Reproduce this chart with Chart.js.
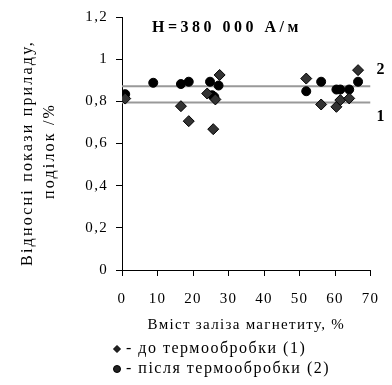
<!DOCTYPE html>
<html>
<head>
<meta charset="utf-8">
<script src="https://cdn.jsdelivr.net/npm/chart.js@4.4.0/dist/chart.umd.min.js"></script>
<style>
  html, body { margin: 0; padding: 0; background: #fff; }
  #wrap { width: 392px; height: 385px; }
</style>
</head>
<body>
<div id="wrap"><canvas id="chart" width="392" height="385"></canvas></div>
<script>
// axis ranges / ticks
const xTicks = [0, 10, 20, 30, 40, 50, 60, 70];
const yTicks = [0, 0.2, 0.4, 0.6, 0.8, 1, 1.2];

// (1) before heat treatment - diamonds
const beforeX = [0.9, 16.6, 18.8, 24.0, 25.7, 26.3, 27.5, 51.9, 56.1, 60.4, 61.5, 64.0, 66.5];
const beforeY = [0.813, 0.777, 0.706, 0.837, 0.668, 0.809, 0.925, 0.908, 0.785, 0.774, 0.806, 0.814, 0.948];

// (2) after heat treatment - circles
const afterX = [0.9, 8.8, 16.6, 18.8, 24.8, 25.4, 26.0, 27.2, 51.9, 56.1, 60.4, 61.5, 64.0, 66.5];
const afterY = [0.834, 0.888, 0.882, 0.893, 0.893, 0.829, 0.821, 0.875, 0.848, 0.893, 0.856, 0.856, 0.856, 0.893];

// horizontal reference lines 1 and 2
const lineNames = ['1', '2'];
const lineLevels = [0.795, 0.872];

const fontFam = '"Liberation Serif", "Times New Roman", serif';

const pts = (xs, ys) => xs.map((x, i) => ({ x: x, y: ys[i] }));

const extraText = {
    id: 'extraText',
    beforeDraw(chart) {
        chart.ctx.letterSpacing = '1.3px';
    },
    afterDraw(chart) {
        const ctx = chart.ctx;
        const area = chart.chartArea;
        const ys = chart.scales.y;
        ctx.save();
        ctx.fillStyle = '#000';

        // title inside plot
        ctx.font = 'bold 16px ' + fontFam;
        ctx.letterSpacing = '3.5px';
        ctx.textAlign = 'left';
        ctx.textBaseline = 'middle';
        ctx.fillText('H=380 000 A/м', 152, 28);

        // line labels
        ctx.letterSpacing = '0px';
        ctx.font = 'bold 16px ' + fontFam;
        lineNames.forEach((n, i) => {
            const yy = ys.getPixelForValue(lineLevels[i]);
            ctx.fillText(n, area.right + 6, n === '2' ? yy - 16 : yy + 14);
        });

        // y-axis title, two rotated lines
        ctx.font = '16px ' + fontFam;
        ctx.letterSpacing = '2.2px';
        ctx.textAlign = 'center';
        ctx.save();
        ctx.translate(28, 153);
        ctx.rotate(-Math.PI / 2);
        ctx.fillText('Відносні покази приладу,', 0, 0);
        ctx.restore();
        ctx.save();
        ctx.translate(50, 151);
        ctx.rotate(-Math.PI / 2);
        ctx.fillText('поділок /%', 0, 0);
        ctx.restore();

        // legend under the axis
        ctx.letterSpacing = '1.5px';
        ctx.textAlign = 'left';
        ctx.font = '16px ' + fontFam;
        const rows = [['rectRot', '- до термообробки (1)', 349], ['circle', '- після термообробки (2)', 369]];
        rows.forEach(r => {
            ctx.fillStyle = '#222';
            ctx.strokeStyle = '#000';
            ctx.lineWidth = 1;
            Chart.helpers.drawPoint(ctx, { pointStyle: r[0], radius: 3.5, rotation: 0, borderWidth: 1 }, 117, r[2]);
            ctx.fillStyle = '#000';
            ctx.fillText(r[1], 126, r[2]);
        });
        ctx.restore();
    }
};

const lineSets = lineLevels.map((v, i) => ({
    type: 'line',
    label: 'line ' + lineNames[i],
    data: [{ x: xTicks[0], y: v }, { x: xTicks[xTicks.length - 1], y: v }],
    borderColor: '#999',
    borderWidth: 2,
    pointRadius: 0,
    order: 3
}));

new Chart(document.getElementById('chart'), {
    type: 'scatter',
    data: {
        datasets: [
            ...lineSets,
            {
                label: 'до термообробки (1)',
                data: pts(beforeX, beforeY),
                pointStyle: 'rectRot',
                pointRadius: 5.5,
                backgroundColor: '#333',
                borderColor: '#000',
                borderWidth: 1,
                order: 1
            },
            {
                label: 'після термообробки (2)',
                data: pts(afterX, afterY),
                pointStyle: 'circle',
                pointRadius: 4.5,
                backgroundColor: '#000',
                borderColor: '#000',
                borderWidth: 1,
                order: 2
            }
        ]
    },
    options: {
        responsive: false,
        animation: false,
        devicePixelRatio: 1,
        layout: { padding: { left: 0, right: 15, top: 17, bottom: 0 } },
        plugins: { legend: { display: false }, tooltip: { enabled: false } },
        scales: {
            x: {
                type: 'linear',
                min: 0,
                max: 70,
                afterBuildTicks: s => { s.ticks = xTicks.map(v => ({ value: v })); },
                afterFit: s => { s.height = 115; },
                grid: { drawOnChartArea: false, drawTicks: true, tickLength: 6, color: '#000' },
                border: { color: '#000', width: 1 },
                ticks: { color: '#000', padding: 14, maxRotation: 0, font: { family: fontFam, size: 15 } },
                title: {
                    display: true,
                    text: 'Вміст заліза магнетиту, %',
                    color: '#000',
                    font: { family: fontFam, size: 15 },
                    padding: { top: 0, bottom: 51 }
                }
            },
            y: {
                type: 'linear',
                min: 0,
                max: 1.2,
                afterBuildTicks: s => { s.ticks = yTicks.map(v => ({ value: v })); },
                afterFit: s => { s.width = 122; },
                grid: { drawOnChartArea: false, drawTicks: true, tickLength: 6, color: '#000' },
                border: { color: '#000', width: 1 },
                ticks: {
                    color: '#000',
                    padding: 8,
                    font: { family: fontFam, size: 15 },
                    callback: v => String(v).replace('.', ',')
                }
            }
        }
    },
    plugins: [extraText]
});
</script>
</body>
</html>
